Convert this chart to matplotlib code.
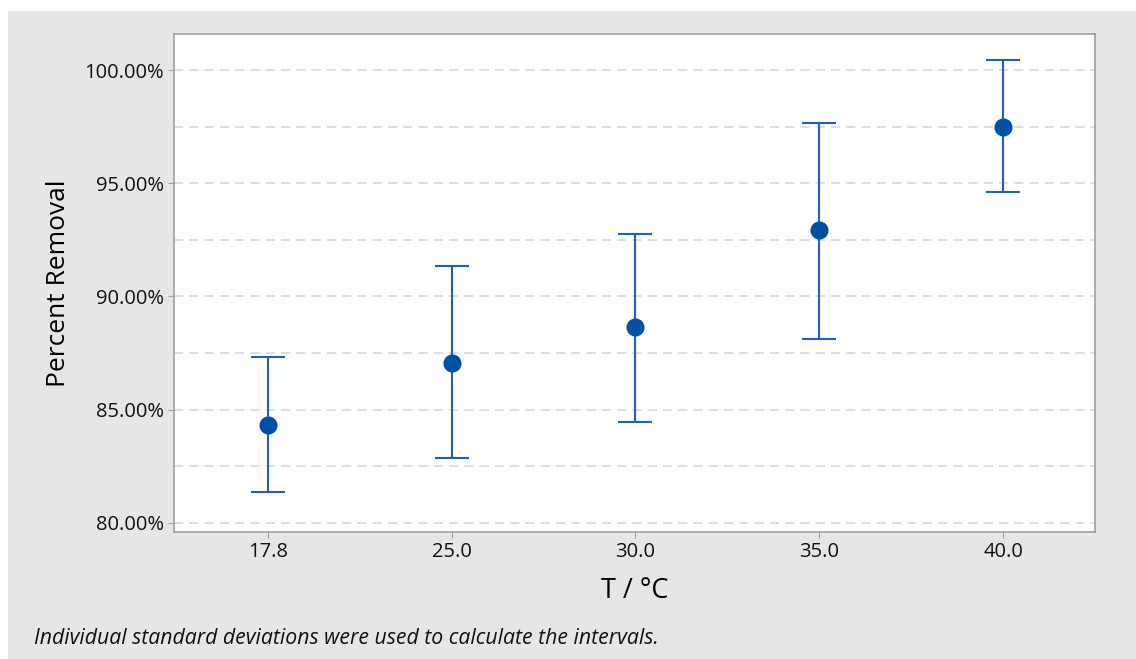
import matplotlib
matplotlib.use("Agg")
import matplotlib.pyplot as plt
from matplotlib.patches import Rectangle
from matplotlib.ticker import FixedLocator, FuncFormatter

plt.rcParams['font.family'] = ['Open Sans', 'DejaVu Sans']

categories = ["17.8", "25.0", "30.0", "35.0", "40.0"]
means = [84.33, 87.06, 88.65, 92.94, 97.48]
upper = [87.33, 91.35, 92.76, 97.66, 100.44]
lower = [81.37, 82.87, 84.46, 88.12, 94.61]

W, H = 1136, 659
fig = plt.figure(figsize=(W / 100, H / 100), dpi=100)
fig.patch.set_facecolor('white')
fig.patches.append(Rectangle((8 / W, 0), 1 - 8 / W, 1 - 11 / H, transform=fig.transFigure,
                             facecolor='#e6e6e6', edgecolor='none', zorder=-5))

left, right, top, bottom = 174, 1095, 34, 532
ax = fig.add_axes([left / W, 1 - bottom / H, (right - left) / W, (bottom - top) / H])
ax.set_zorder(2)
ax.set_facecolor('white')

x = list(range(len(categories)))
yerr = [[m - l for m, l in zip(means, lower)], [u - m for u, m in zip(upper, means)]]
ax.errorbar(x, means, yerr=yerr, fmt='none', ecolor='#2160b8', elinewidth=1.5,
            capsize=12.5, capthick=1.5, zorder=3)
ax.plot(x, means, 'o', color='#0050a4', markersize=12, zorder=4)

ax.set_xlim(-0.51, 4.5)
ax.set_ylim(79.60, 101.59)
ax.set_xticks(x)
ax.set_xticklabels(categories)
ax.yaxis.set_major_locator(FixedLocator([80, 85, 90, 95, 100]))
ax.yaxis.set_minor_locator(FixedLocator([82.5, 87.5, 92.5, 97.5]))
ax.yaxis.set_major_formatter(FuncFormatter(lambda v, p: f"{v:.2f}%"))
ax.grid(True, which='both', axis='y', linestyle=(0, (6, 4)), color='#d4d4d4', linewidth=1.1)
ax.set_axisbelow(True)

for s in ax.spines.values():
    s.set_color('#a0a0a0')
    s.set_linewidth(1.2)
ax.tick_params(axis='both', which='major', direction='out', length=4, color='#a0a0a0',
               labelsize=14.5, labelcolor='#111111', pad=3)
ax.tick_params(axis='y', which='minor', length=0)

ax.set_ylabel("Percent Removal", fontsize=19, color='#000000', labelpad=10)
ax.set_xlabel("T / °C", fontsize=19.5, color='#000000', labelpad=11)

fig.text(34 / W, 1 - 638 / H, "Individual standard deviations were used to calculate the intervals.",
         fontsize=15.3, style='italic', color='#111111', va='center', ha='left')

fig.savefig("out.png", dpi=100, facecolor=fig.get_facecolor())
